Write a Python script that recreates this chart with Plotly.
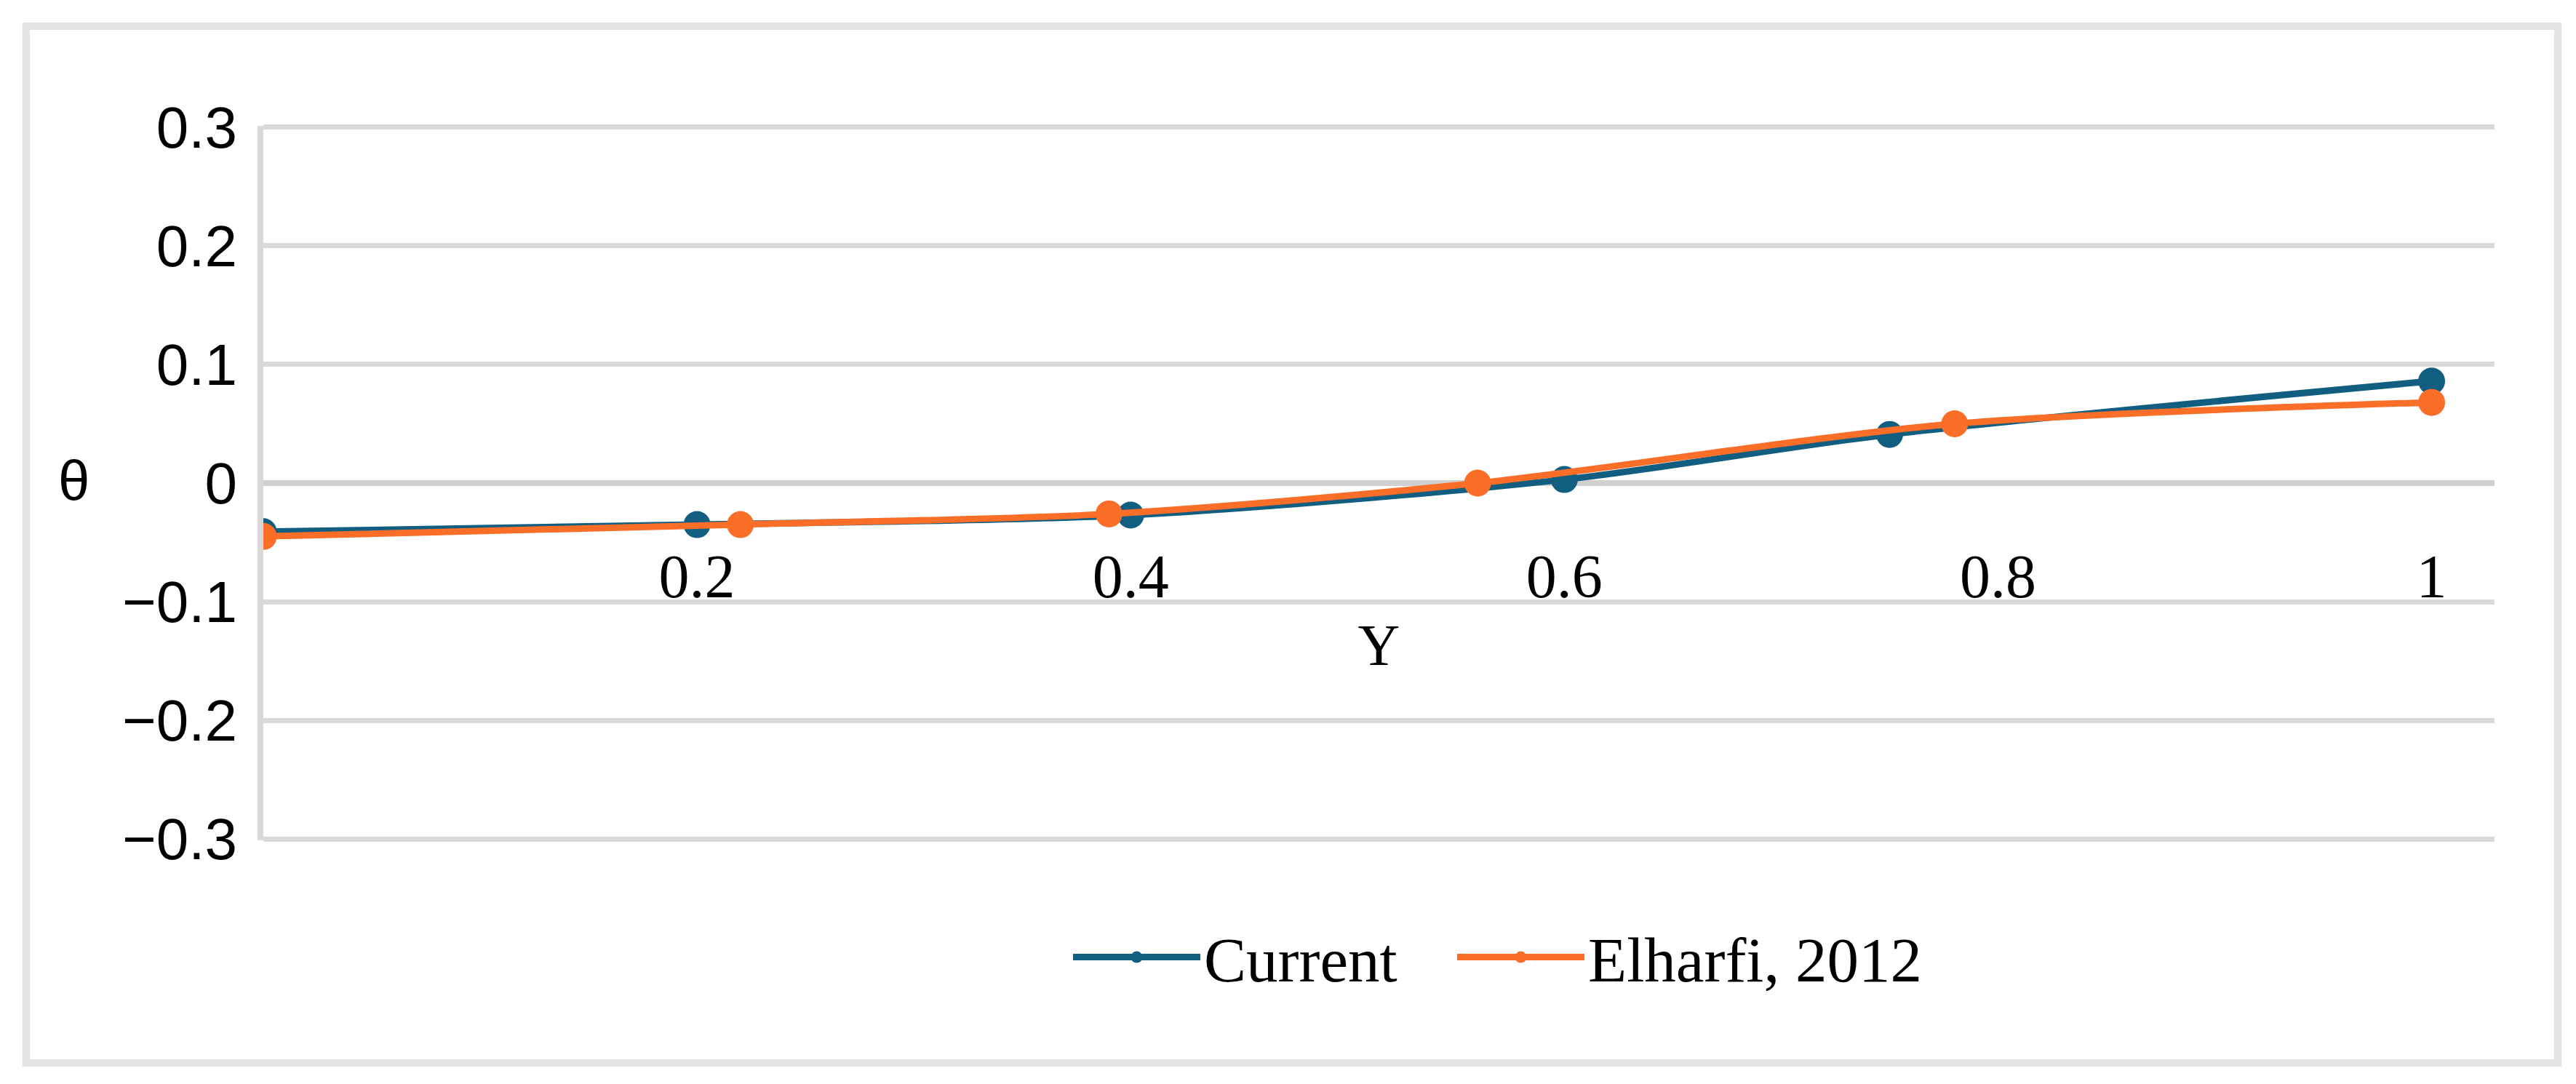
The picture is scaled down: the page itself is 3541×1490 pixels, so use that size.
import plotly.graph_objects as go

# =====================
# Data
# =====================
current_y_pos = [0.0, 0.2, 0.4, 0.6, 0.75, 1.0]
current_theta = [-0.041, -0.035, -0.027, 0.003, 0.041, 0.086]

elharfi_y_pos = [0.0, 0.22, 0.39, 0.56, 0.78, 1.0]
elharfi_theta = [-0.045, -0.035, -0.026, 0.0, 0.05, 0.068]

x_ticks = [0.2, 0.4, 0.6, 0.8, 1]
y_ticks = [-0.3, -0.2, -0.1, 0, 0.1, 0.2, 0.3]

# =====================
# Layout helpers
# =====================
W, H = 3541, 1490
L, R, T, B = 354, 120, 165, 343
PW, PH = W - L - R, H - T - B

BLUE = "#115E80"
ORANGE = "#FA6E28"
GRID = "#D9D9D9"


def px_x(p):
    """pixel x -> paper x"""
    return (p - L) / PW


def px_y(p):
    """pixel y -> paper y"""
    return (H - B - p) / PH


def _legend(x_px):
    return dict(
        orientation="h", x=px_x(x_px), xanchor="left", y=px_y(1308), yanchor="middle",
        font=dict(family="Liberation Serif", size=87, color="black"),
        itemwidth=175, bgcolor="rgba(0,0,0,0)",
    )


fig = go.Figure()
fig.add_trace(go.Scatter(
    x=current_y_pos, y=current_theta, name="Current", mode="lines+markers",
    line=dict(color=BLUE, width=9, shape="spline", smoothing=0.8),
    marker=dict(color=BLUE, size=37), legend="legend",
))
fig.add_trace(go.Scatter(
    x=elharfi_y_pos, y=elharfi_theta, name="Elharfi, 2012", mode="lines+markers",
    line=dict(color=ORANGE, width=9, shape="spline", smoothing=0.8),
    marker=dict(color=ORANGE, size=37), legend="legend2",
))

fig.update_layout(
    width=W, height=H,
    margin=dict(l=L, r=R, t=T, b=B),
    paper_bgcolor="white", plot_bgcolor="white",
    showlegend=True,
    legend=_legend(1462),
    legend2=_legend(1990),
    xaxis=dict(
        range=[0, 1.029], tickvals=x_ticks, anchor="free", position=0.5,
        showgrid=False, zeroline=False, showline=False,
        ticks="outside", ticklen=0, ticklabelstandoff=55,
        tickfont=dict(family="Liberation Serif", size=84, color="black"),
        title=dict(text="Y", standoff=20,
                   font=dict(family="Liberation Serif", size=80, color="black")),
    ),
    yaxis=dict(
        range=[-0.3012, 0.3012], tickvals=y_ticks,
        showgrid=True, gridcolor=GRID, gridwidth=7,
        zeroline=True, zerolinecolor="#D0D0D0", zerolinewidth=8,
        showline=True, linecolor=GRID, linewidth=8,
        ticklabelstandoff=12,
        tickfont=dict(family="Liberation Sans", size=80, color="black"),
    ),
)

# theta label, horizontal, left of the axis
fig.add_annotation(
    text="θ", xref="paper", yref="paper", x=px_x(93), y=px_y(653),
    xanchor="center", yanchor="middle", showarrow=False,
    font=dict(family="Liberation Sans", size=78, color="black"),
)

# outer chart frame
fig.add_shape(
    type="rect", xref="paper", yref="paper",
    x0=px_x(28), x1=px_x(3508), y0=px_y(1453), y1=px_y(28),
    line=dict(color="#E3E3E3", width=10), layer="below",
)

fig.write_html("out.html")
